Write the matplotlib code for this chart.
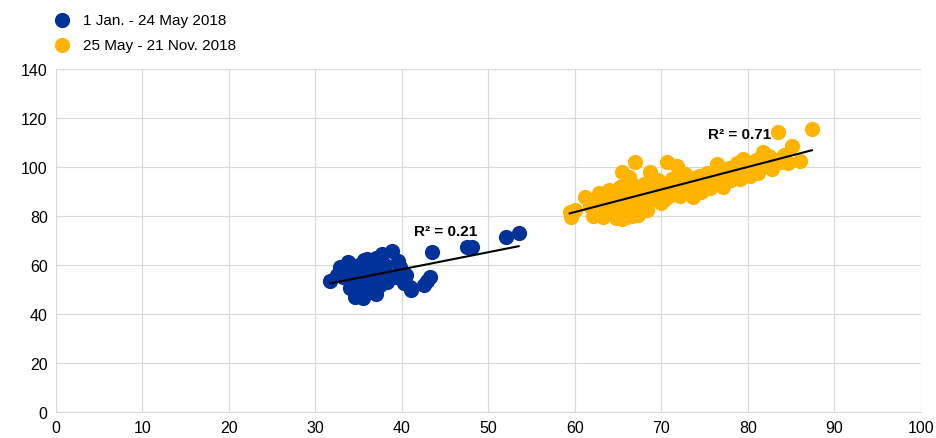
import numpy as np
import matplotlib.pyplot as plt

plt.rcParams['font.family'] = ['Liberation Sans', 'DejaVu Sans']

# ---------------------- data ----------------------
blue_label = "1 Jan. - 24 May 2018"
orange_label = "25 May - 21 Nov. 2018"

blue_x = [31.7, 32.5, 32.8, 33.2, 33.5, 33.8, 34.0, 34.3, 34.6, 34.8, 35.0, 35.2,
          35.4, 35.6, 35.8, 36.0, 36.2, 36.4, 36.6, 36.8, 37.0, 37.2, 37.5, 37.7,
          38.0, 38.3, 38.8, 39.2, 39.6, 39.8, 40.2, 40.5, 40.9, 41.0, 33.0, 34.0,
          35.0, 36.0, 37.0, 38.0, 35.5, 36.5, 42.5, 42.9, 43.3, 43.5, 47.5, 48.1,
          52.0, 53.5]
blue_y = [53.5, 56.0, 59.2, 55.0, 57.5, 61.2, 53.0, 58.5, 47.0, 55.5, 60.0, 50.0,
          57.0, 62.0, 48.5, 62.4, 54.5, 51.0, 60.5, 49.0, 63.0, 56.5, 52.0, 64.5,
          58.0, 53.0, 65.7, 55.0, 61.6, 59.0, 52.5, 56.0, 51.0, 50.0, 58.0, 50.5,
          54.0, 58.5, 48.0, 60.0, 46.5, 52.0, 52.0, 53.5, 55.0, 65.3, 67.5, 67.5,
          71.5, 73.0]

orange_x = [59.4, 59.6, 60.0, 61.2, 61.8, 62.1, 62.5, 62.8, 63.2, 63.5, 63.8, 64.0,
            64.3, 64.5, 64.8, 65.0, 65.2, 65.4, 65.5, 65.8, 66.0, 66.2, 66.4, 66.6,
            66.9, 67.0, 67.2, 67.5, 67.8, 68.0, 68.3, 68.7, 69.0, 69.3, 69.6, 70.0,
            70.3, 70.6, 70.9, 71.2, 71.5, 71.8, 72.1, 72.4, 72.7, 73.0, 73.3, 73.6,
            74.0, 74.3, 74.6, 75.0, 75.3, 75.6, 76.0, 76.4, 76.7, 77.1, 77.4, 77.8,
            78.0, 78.4, 78.8, 79.1, 79.4, 79.8, 80.2, 80.5, 80.9, 81.2, 81.7, 82.0,
            82.4, 82.8, 83.2, 83.5, 83.7, 84.2, 84.6, 85.1, 86.0, 87.4, 66.0, 67.3,
            68.6, 70.4, 72.0, 74.8, 76.2, 78.6]
orange_y = [81.6, 79.5, 82.5, 87.8, 84.0, 80.0, 86.0, 89.5, 79.6, 83.0, 88.0, 90.5,
            81.0, 85.5, 79.0, 87.0, 92.0, 98.0, 78.8, 83.5, 89.0, 96.0, 94.3, 80.0,
            102.0, 86.0, 91.0, 84.0, 88.5, 93.0, 82.5, 98.0, 87.0, 90.0, 94.5, 85.5,
            92.0, 102.0, 88.0, 95.0, 91.0, 100.4, 88.2, 93.5, 97.0, 90.5, 95.5, 87.8,
            92.5, 96.5, 90.0, 94.0, 97.5, 91.5, 95.5, 101.2, 93.0, 91.8, 97.0, 99.5,
            94.5, 96.0, 101.5, 95.0, 103.3, 98.0, 96.3, 100.5, 103.0, 97.5, 106.0, 101.0,
            104.5, 99.0, 103.0, 114.3, 102.0, 105.0, 101.5, 108.6, 102.4, 115.5, 79.5, 80.5,
            86.0, 87.0, 91.5, 93.0, 95.0, 98.5]

r2_blue = "R² = 0.21"
r2_orange = "R² = 0.71"

blue = '#003299'
orange = '#FFB400'

# ---------------------- plot ----------------------
fig = plt.figure(figsize=(9.36, 4.39), dpi=100)
ax = fig.add_axes([0.0598, 0.0592, 0.924, 0.7813])

ax.scatter(blue_x, blue_y, s=120, color=blue, label=blue_label, zorder=3, linewidths=0)
ax.scatter(orange_x, orange_y, s=120, color=orange, label=orange_label, zorder=3, linewidths=0)

# linear trend lines
for xs, ys in [(blue_x, blue_y), (orange_x, orange_y)]:
    k, b = np.polyfit(xs, ys, 1)
    xx = np.array([min(xs), max(xs)])
    ax.plot(xx, k * xx + b, color='black', lw=1.5, zorder=4)

ax.text(45.0, 74.0, r2_blue, fontsize=11, fontweight='bold', ha='center', va='center', zorder=5)
ax.text(79.0, 113.5, r2_orange, fontsize=11, fontweight='bold', ha='center', va='center', zorder=5)

ax.set_xlim(0, 100)
ax.set_ylim(0, 140)
ax.set_xticks(np.arange(0, 101, 10))
ax.set_yticks(np.arange(0, 141, 20))
ax.grid(True, color='#d9d9d9', lw=0.8)
ax.set_axisbelow(True)
for s in ['top', 'right', 'left']:
    ax.spines[s].set_visible(False)
ax.spines['bottom'].set_color('#d9d9d9')
ax.tick_params(length=0, labelsize=11.5, pad=6)

fig.legend(loc='upper left', bbox_to_anchor=(0.035, 1.0), frameon=False, fontsize=11,
           handletextpad=0.4, labelspacing=0.75, markerscale=1.0)

plt.savefig('out.png', dpi=100)
